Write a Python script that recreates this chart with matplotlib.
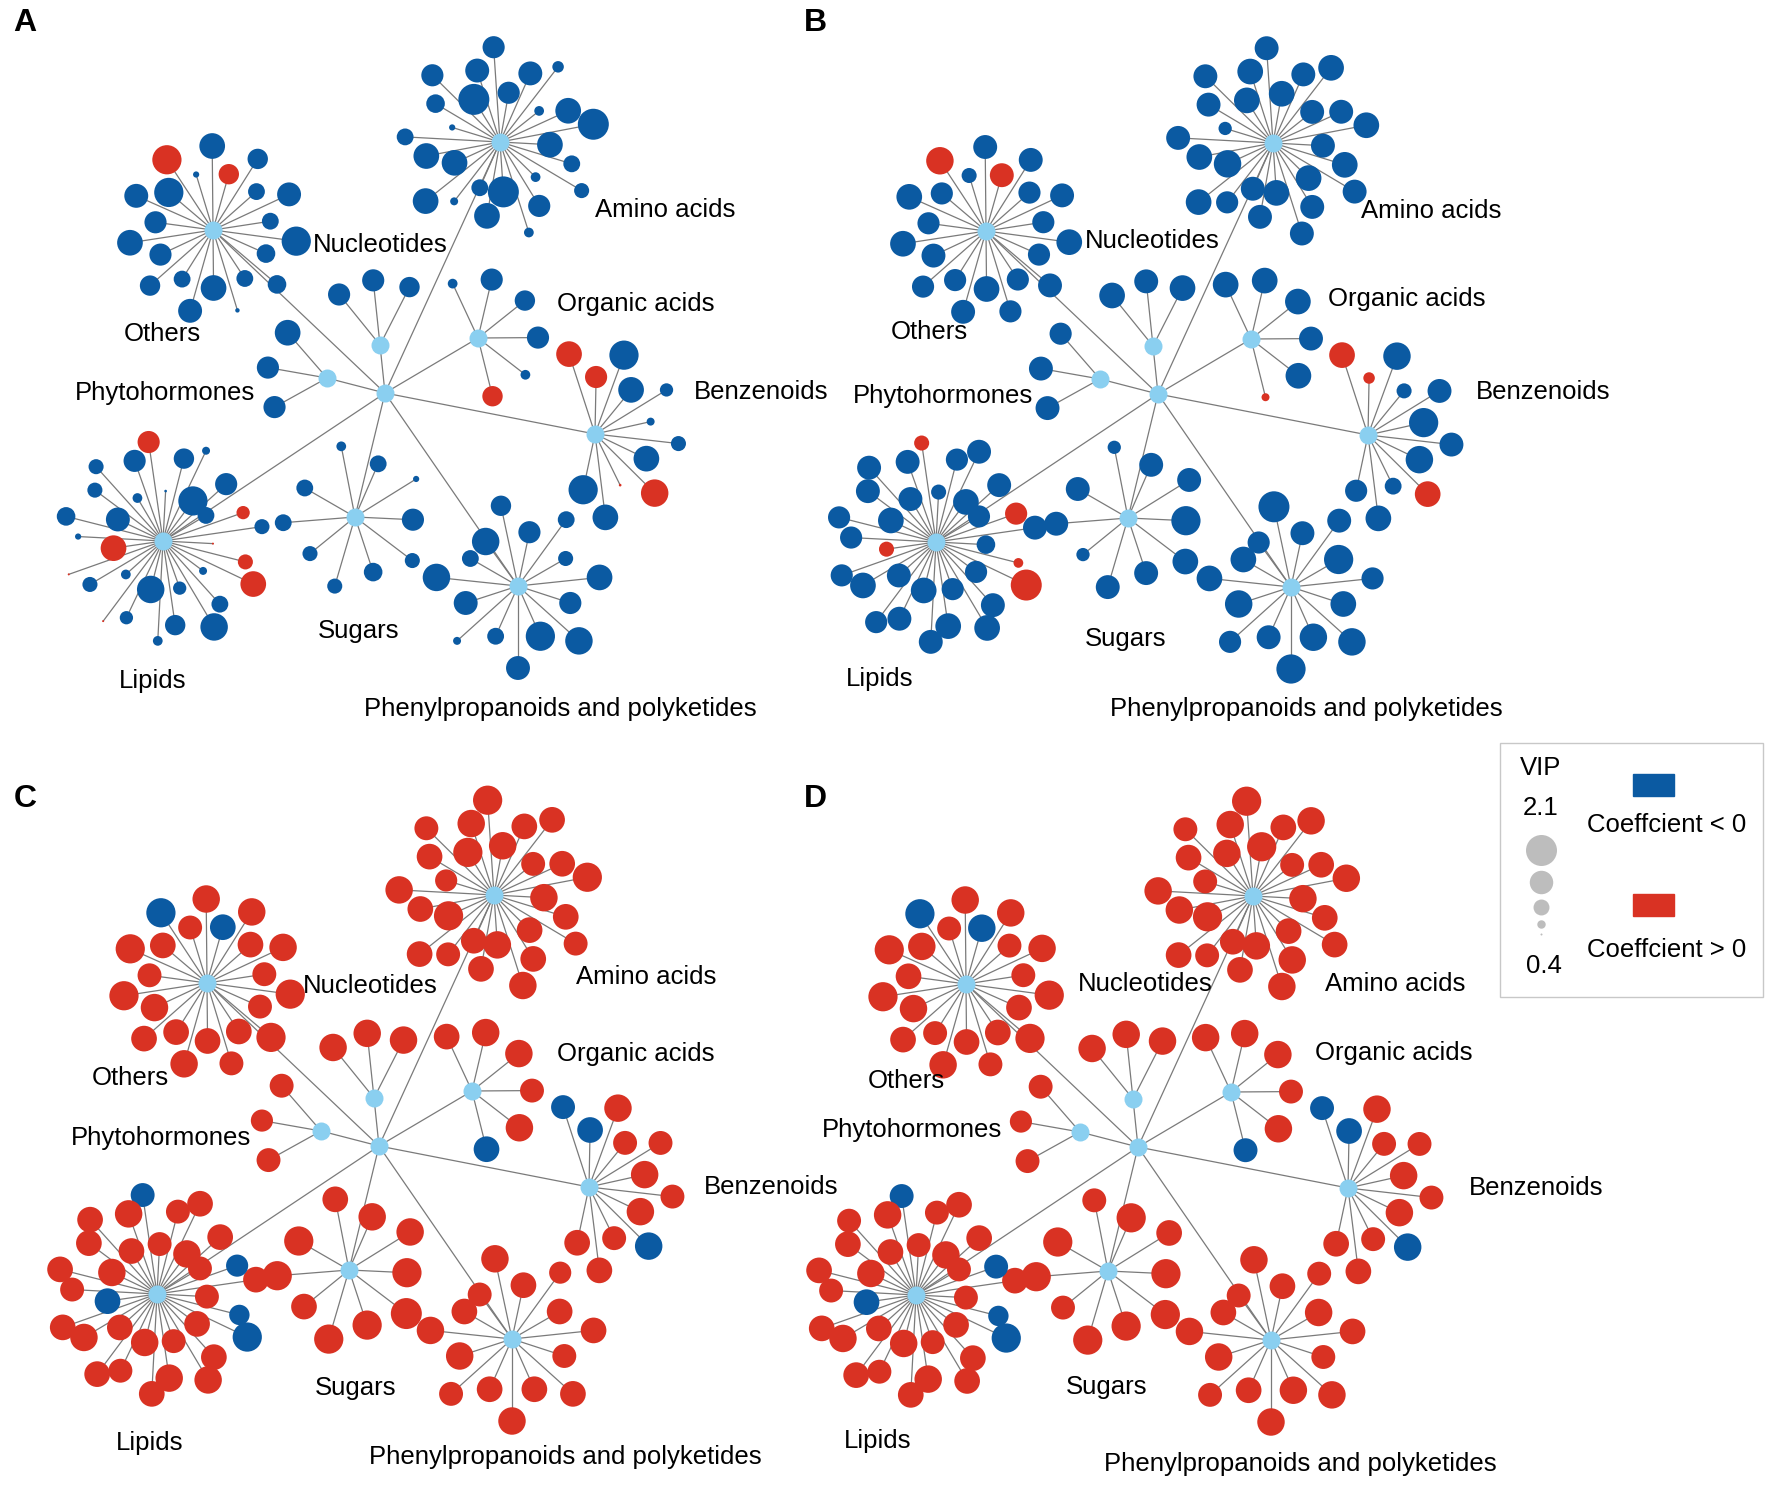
import numpy as np
import matplotlib
matplotlib.use("Agg")
import matplotlib.pyplot as plt
from matplotlib.patches import Rectangle

# ---------------- data ----------------
categories = ["Others", "Nucleotides", "Amino acids", "Organic acids", "Benzenoids",
              "Phenylpropanoids and polyketides", "Sugars", "Lipids", "Phytohormones"]
panels = ["A", "B", "C", "D"]

# signed VIP values: magnitude = VIP, sign = sign of coefficient
A_others = [-1.4, -2.0, -1.3, -1.7, -1.3, -1.5, 1.5, -1.8, -0.7, 2.0, -2.0, -1.7, -1.6, -1.8, -1.6, -1.5, -1.3, -1.7, -1.8, -0.6, -1.3, -1.4]
A_nucleotides = [-1.5, -1.6, -1.6]
A_amino = [-1.8, -2.1, -0.9, -1.6, -0.9, -1.2, -1.3, -1.8, -2.1, -1.8, -0.9, -1.0, -1.7, -1.6, -1.6, -1.7, -2.1, -1.6, -1.4, -0.7, -1.3, -1.8, -1.8, -1.8, -0.8, -1.3]
A_organic = [1.5, -0.9, -1.6, -1.5, -1.6, -0.9]
A_benzenoids = [-2.0, -1.8, 0.5, 1.9, -1.8, -1.2, -0.8, -1.1, -1.8, -2.0, 1.6, 1.8]
A_phenyl = [-1.3, -1.9, -1.7, -0.8, -1.3, -1.7, -2.0, -1.9, -1.6, -1.8, -1.2, -1.3, -1.6, -1.5, -1.9]
A_sugars = [-1.3, -1.3, -1.2, -1.2, -1.4, -1.2, -1.6, -0.7, -1.3, -0.9]
A_lipids = [-1.6, -2.0, -0.8, -1.5, -0.5, 1.6, -1.6, -0.9, -1.2, -1.2, -1.7, -1.4, -0.7, 1.8, 0.45, -1.2,
            -0.9, 0.45, -1.1, -1.9, -0.9, -1.5, -1.1, -1.9, -1.3, -0.8, 1.8, 1.2, 0.45, -1.2, 1.1, -1.3]
A_phyto = [-1.8, -1.6, -1.6]

B_others = [-1.6, -1.8, -1.6, -1.7, -1.6, -1.7, 1.7, -1.7, -1.2, 1.9, -1.6, -1.8, -1.6, -1.8, -1.7, -1.6, -1.6, -1.7, -1.8, -1.6, -1.6, -1.7]
B_nucleotides = [-1.8, -1.7, -1.8]
B_amino = [-1.7, -1.8, -1.7, -1.7, -1.8, -1.7, -1.8, -1.7, -1.8, -1.7, -1.7, -1.8, -1.7, -1.8, -1.7, -1.8, -1.8, -1.7, -1.7, -1.1, -1.7, -1.8, -1.9, -1.8, -1.6, -1.7]
B_organic = [0.8, -1.8, -1.7, -1.8, -1.8, -1.8]
B_benzenoids = [-1.6, -1.8, -1.3, 1.8, -1.9, -1.7, -2.0, -1.7, -1.2, -1.9, 1.0, 1.8]
B_phenyl = [-1.8, -1.8, -1.9, -1.6, -1.7, -2.0, -1.9, -1.9, -1.8, -1.6, -2.0, -1.7, -1.7, -2.1, -1.6]
B_sugars = [-1.7, -1.7, -1.1, -1.7, -1.7, -1.8, -2.0, -1.7, -1.7, -1.1]
B_lipids = [-1.7, -1.8, -1.7, -1.6, -1.2, 1.2, -1.7, -1.7, -1.7, -1.7, -1.8, -1.6, -1.6, 1.2, -1.6, -1.8,
            -1.7, -1.6, -1.7, -1.8, -1.7, -1.8, -1.6, -1.8, -1.7, -1.6, 2.1, 0.9, -1.4, -1.7, 1.6, -1.6]
B_phyto = [-1.6, -1.7, -1.7]

C_others = [1.7, 2.0, 1.7, 1.9, 1.8, 1.9, -1.8, 1.9, 1.7, -2.0, 1.8, 2.0, 1.7, 2.0, 1.9, 1.8, 1.8, 1.9, 1.8, 1.7, 1.8, 2.0]
C_nucleotides = [1.9, 1.9, 1.9]
C_amino = [1.8, 1.9, 1.9, 1.8, 1.8, 1.7, 1.8, 1.9, 2.0, 1.8, 1.7, 1.8, 1.8, 1.9, 2.0, 1.9, 2.0, 1.7, 1.8, 1.6, 1.9, 1.8, 2.0, 1.8, 1.7, 1.8]
C_organic = [-1.8, 1.9, 1.7, 1.9, 1.9, 1.8]
C_benzenoids = [1.8, 1.8, 1.7, -1.9, 1.9, 1.7, 1.9, 1.7, 1.7, 1.9, -1.8, -1.7]
C_phenyl = [1.8, 1.9, 1.9, 1.7, 1.8, 1.9, 1.8, 1.8, 1.7, 1.8, 1.8, 1.6, 1.8, 1.9, 1.7]
C_sugars = [2.0, 2.0, 1.8, 2.0, 2.0, 2.1, 2.0, 1.9, 1.9, 1.8]
C_lipids = [1.8, 1.9, 1.8, 1.7, 1.7, -1.7, 1.9, 1.8, 1.8, 1.8, 1.9, 1.8, 1.7, -1.8, 1.8, 1.9,
            1.8, 1.8, 1.7, 1.9, 1.8, 1.9, 1.7, 1.9, 1.8, 1.8, -2.0, -1.5, 1.7, 1.8, -1.6, 1.7]
C_phyto = [1.7, 1.6, 1.7]

D_others = [1.8, 2.0, 1.7, 1.9, 1.7, 1.9, -1.9, 1.9, 1.7, -2.0, 1.9, 2.0, 1.8, 2.0, 1.9, 1.8, 1.7, 1.9, 1.8, 1.7, 1.8, 2.0]
D_nucleotides = [1.9, 1.9, 1.9]
D_amino = [1.8, 1.9, 1.9, 1.9, 1.8, 1.8, 1.8, 1.9, 1.9, 1.8, 1.7, 1.9, 1.8, 2.0, 2.0, 1.9, 1.9, 1.7, 1.8, 1.7, 1.9, 1.9, 2.0, 1.8, 1.7, 1.8]
D_organic = [-1.7, 1.9, 1.7, 1.9, 1.9, 1.9]
D_benzenoids = [1.8, 1.8, 1.7, -1.9, 1.9, 1.7, 1.9, 1.7, 1.7, 1.9, -1.8, -1.7]
D_phenyl = [1.8, 1.9, 1.9, 1.7, 1.8, 1.9, 1.9, 1.9, 1.7, 1.8, 1.9, 1.7, 1.8, 1.9, 1.7]
D_sugars = [2.0, 2.0, 1.7, 2.0, 2.0, 2.0, 2.0, 1.8, 2.0, 1.7]
D_lipids = [1.8, 1.9, 1.8, 1.7, 1.7, -1.7, 1.9, 1.8, 1.7, 1.8, 1.9, 1.8, 1.7, -1.8, 1.8, 1.9,
            1.8, 1.8, 1.7, 1.9, 1.8, 1.9, 1.7, 1.8, 1.8, 1.8, -2.0, -1.5, 1.7, 1.8, -1.7, 1.7]
D_phyto = [1.7, 1.6, 1.7]

legend_vip = [2.1, 1.675, 1.25, 0.825, 0.4]

panel_data = {
    "A": [A_others, A_nucleotides, A_amino, A_organic, A_benzenoids, A_phenyl, A_sugars, A_lipids, A_phyto],
    "B": [B_others, B_nucleotides, B_amino, B_organic, B_benzenoids, B_phenyl, B_sugars, B_lipids, B_phyto],
    "C": [C_others, C_nucleotides, C_amino, C_organic, C_benzenoids, C_phenyl, C_sugars, C_lipids, C_phyto],
    "D": [D_others, D_nucleotides, D_amino, D_organic, D_benzenoids, D_phenyl, D_sugars, D_lipids, D_phyto],
}

# ---------------- layout (pixel space) ----------------
W, H = 1775, 1487
panel_center = {"A": (385, 393), "B": (1158, 394), "C": (379, 1146), "D": (1138, 1147)}
panel_letter = {"A": (25, 23), "B": (815, 23), "C": (25, 799), "D": (815, 799)}
hub_offset = [(-172, -163), (-5, -48), (115, -251), (93, -55), (210, 41),
              (133, 193), (-30, 124), (-222, 148), (-58, -15)]
# (start angle deg, span deg or None = full circle, radius cycle)
leaf_layout = [(-24, None, [58, 84]), (63, 66, [65]), (-100, None, [75, 50, 95]),
               (-76, 191, [60]), (-102, 210, [57, 84]), (150, None, [55, 82]),
               (150, 311, [58, 72]), (42, None, [85, 50, 100]), (131, 78, [60])]
label_offset = {
    "A": [(-223, -59), (-5, -148), (280, -183), (251, -89), (376, -1), (175, 316), (-26, 238), (-232, 288), (-220, 0)],
    "B": [(-229, -62), (-6, -153), (273, -183), (249, -95), (385, -2), (148, 315), (-32, 245), (-278, 285), (-215, 2)],
    "C": [(-249, -68), (-9, -160), (267, -169), (257, -92), (392, 41), (186, 311), (-23, 242), (-229, 297), (-218, -8)],
    "D": [(-232, -66), (7, -163), (257, -163), (256, -94), (398, 41), (162, 317), (-31, 240), (-260, 294), (-226, -17)],
}

BLUE = "#0B5AA2"
RED = "#D93223"
HUB = "#8ACFF0"
EDGE = "#7A7A7A"
FONT = "Liberation Sans"
PX2PT = 0.72  # at dpi 100


def diam_px(v):
    return max(2.0, 31.0 * (abs(v) - 0.35) / (2.1 - 0.35))


fig = plt.figure(figsize=(W / 100, H / 100), dpi=100)
ax = fig.add_axes([0, 0, 1, 1])
ax.set_xlim(0, W)
ax.set_ylim(H, 0)
ax.axis("off")

for p in panels:
    cx, cy = panel_center[p]
    xs, ys, ss, cs = [], [], [], []
    for k, cat in enumerate(categories):
        hx, hy = cx + hub_offset[k][0], cy + hub_offset[k][1]
        ax.plot([cx, hx], [cy, hy], color=EDGE, lw=0.9, zorder=1)
        vals = panel_data[p][k]
        n = len(vals)
        start, span, radii = leaf_layout[k]
        step = 360.0 / n if span is None else span / max(n - 1, 1)
        for i, v in enumerate(vals):
            th = np.deg2rad(start + i * step)
            r = radii[i % len(radii)]
            lx, ly = hx + r * np.cos(th), hy - r * np.sin(th)
            ax.plot([hx, lx], [hy, ly], color=EDGE, lw=0.9, zorder=1)
            xs.append(lx); ys.append(ly)
            ss.append((diam_px(v) * PX2PT) ** 2)
            cs.append(RED if v > 0 else BLUE)
        ax.scatter([hx], [hy], s=(18 * PX2PT) ** 2, color=HUB, zorder=3, linewidths=0)
        lx, ly = label_offset[p][k]
        ax.text(cx + lx, cy + ly, cat, ha="center", va="center", fontsize=18.5,
                family=FONT, zorder=5)
    ax.scatter(xs, ys, s=ss, c=cs, zorder=2, linewidths=0)
    ax.scatter([cx], [cy], s=(18 * PX2PT) ** 2, color=HUB, zorder=3, linewidths=0)
    ax.text(*panel_letter[p], p, ha="center", va="center", fontsize=23,
            fontweight="bold", family=FONT)

# ---------------- legend ----------------
ax.add_patch(Rectangle((1500, 743), 263, 254, fill=False, edgecolor="#C8C8C8", lw=1.0, zorder=4))
ax.text(1541, 768, "VIP", ha="center", va="center", fontsize=18.5, family=FONT)
ax.text(1541, 808, "2.1", ha="center", va="center", fontsize=18.5, family=FONT)
ax.text(1544, 966, "0.4", ha="center", va="center", fontsize=18.5, family=FONT)
y = 850.0
prev = None
for v in legend_vip:
    d = diam_px(v)
    if prev is not None:
        y += (prev + d) / 2 + 5
    ax.scatter([1541], [y], s=(d * PX2PT) ** 2, color="#BDBDBD", linewidths=0, zorder=5)
    prev = d
ax.add_patch(Rectangle((1633, 774), 41, 22, color=BLUE, zorder=5))
ax.add_patch(Rectangle((1633, 894), 41, 22, color=RED, zorder=5))
ax.text(1667, 825, "Coeffcient < 0", ha="center", va="center", fontsize=18.5, family=FONT)
ax.text(1667, 950, "Coeffcient > 0", ha="center", va="center", fontsize=18.5, family=FONT)

fig.savefig("out.png", dpi=100)
